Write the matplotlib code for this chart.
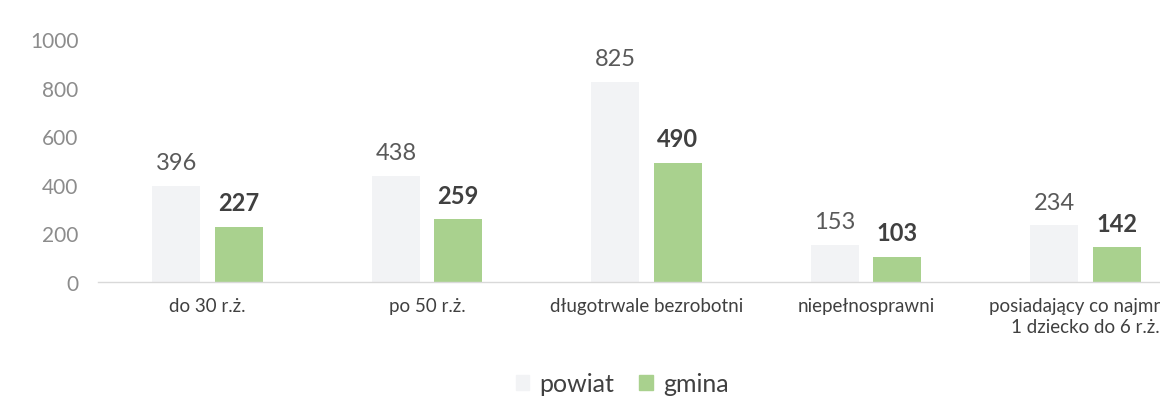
import matplotlib
matplotlib.use("Agg")
import matplotlib.pyplot as plt
import numpy as np
from matplotlib.patches import Patch

categories = ["do 30 r.ż.", "po 50 r.ż.", "długotrwale bezrobotni", "niepełnosprawni",
              "posiadający co najmniej\n1 dziecko do 6 r.ż."]
powiat = [396, 438, 825, 153, 234]
gmina = [227, 259, 490, 103, 142]
series_names = ["powiat", "gmina"]
yticks = [0, 200, 400, 600, 800, 1000]

plt.rcParams['font.family'] = ['Lato', 'DejaVu Sans']

c_pow = "#F2F3F5"
c_gm = "#A9D18E"

fig = plt.figure(figsize=(11.6, 4.1), dpi=100)
left = 97.75 / 1160
width = 5 * 219.5 / 1160
ax = fig.add_axes([left, 127 / 410, width, 243 / 410])

x = np.arange(len(categories))
w = 0.219
off = 0.1416
ax.bar(x - off, powiat, w, color=c_pow)
ax.bar(x + off, gmina, w, color=c_gm)

for xi, v in zip(x, powiat):
    ax.annotate(str(v), (xi - off, v), xytext=(0, 9), textcoords="offset points",
                ha="center", va="bottom", fontsize=17, color="#595959")
for xi, v in zip(x, gmina):
    ax.annotate(str(v), (xi + off, v), xytext=(0, 9), textcoords="offset points",
                ha="center", va="bottom", fontsize=17, color="#404040", fontweight="bold")

ax.set_xlim(-0.5, len(categories) - 0.5)
ax.set_ylim(0, 1000)
ax.set_yticks(yticks)
ax.set_yticklabels([str(t) for t in yticks], fontsize=15, color="#8C8C8C")
ax.set_xticks(x)
ax.set_xticklabels(categories, fontsize=13.5, color="#404040", linespacing=1.25)
ax.tick_params(axis="both", length=0)
ax.tick_params(axis="y", pad=14)
ax.tick_params(axis="x", pad=11)
for s in ["top", "right", "left"]:
    ax.spines[s].set_visible(False)
ax.spines["bottom"].set_color("#D9D9D9")
ax.spines["bottom"].set_linewidth(1)

handles = [Patch(color=c_pow), Patch(color=c_gm)]
fig.legend(handles, series_names, loc="center", bbox_to_anchor=(622 / 1160, 25 / 410), ncol=2,
           frameon=False, fontsize=18, handlelength=0.55, handleheight=0.55,
           handletextpad=0.4, columnspacing=1.0, labelcolor="#404040")

fig.savefig("out.png", dpi=100)
